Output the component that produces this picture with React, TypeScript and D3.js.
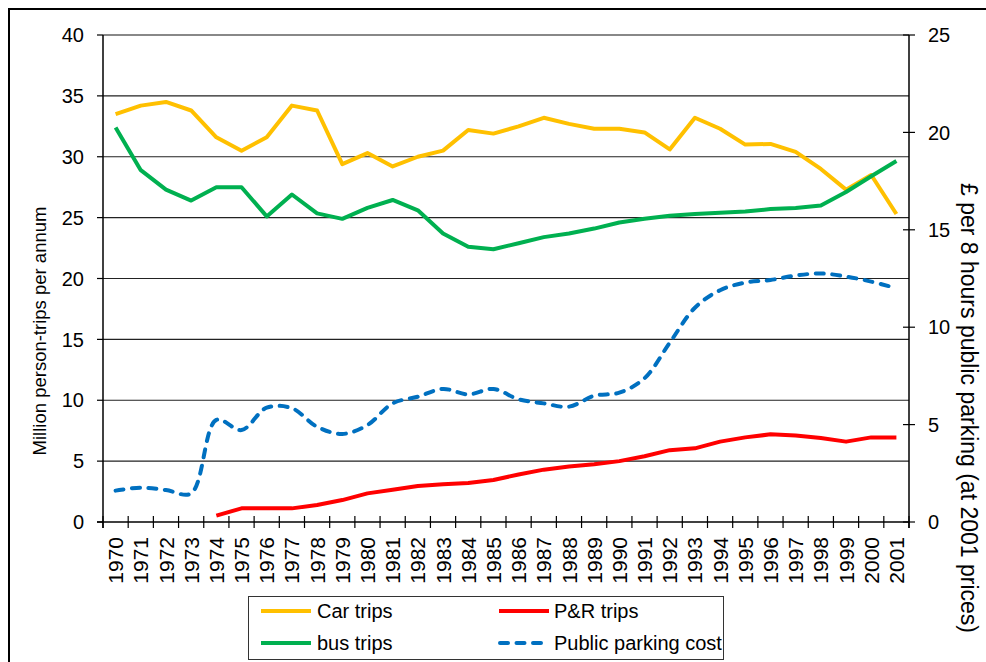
import * as d3 from "d3";

// categories and series
const years = [
  "1970", "1971", "1972", "1973", "1974", "1975", "1976", "1977",
  "1978", "1979", "1980", "1981", "1982", "1983", "1984", "1985",
  "1986", "1987", "1988", "1989", "1990", "1991", "1992", "1993",
  "1994", "1995", "1996", "1997", "1998", "1999", "2000", "2001",
];

const carTrips = [
  33.5, 34.2, 34.5, 33.8, 31.6, 30.5, 31.6, 34.2, 33.8, 29.4, 30.3, 29.2,
  30.0, 30.5, 32.2, 31.9, 32.5, 33.2, 32.7, 32.3, 32.3, 32.0, 30.6, 33.2,
  32.3, 31.0, 31.05, 30.4, 29.0, 27.3, 28.5, 25.3,
];

const busTrips = [
  32.4, 28.9, 27.3, 26.4, 27.5, 27.5, 25.1, 26.9, 25.35, 24.9, 25.8, 26.45,
  25.6, 23.7, 22.6, 22.4, 22.9, 23.4, 23.7, 24.1, 24.6, 24.9, 25.15, 25.3,
  25.4, 25.5, 25.7, 25.8, 26.0, 27.1, 28.4, 29.65,
];

const prTrips: (number | null)[] = [
  null, null, null, null, 0.52, 1.12, 1.12, 1.12, 1.4, 1.8, 2.35, 2.65,
  2.95, 3.1, 3.2, 3.45, 3.9, 4.3, 4.55, 4.75, 5.0, 5.4, 5.9, 6.05,
  6.6, 6.95, 7.2, 7.1, 6.9, 6.6, 6.95, 6.95,
];

const parkingCost = [
  1.61, 1.76, 1.64, 1.47, 5.24, 4.72, 5.87, 5.84, 4.89, 4.52, 4.98, 6.09,
  6.43, 6.83, 6.55, 6.83, 6.3, 6.09, 5.92, 6.48, 6.64, 7.38, 9.2, 11.0,
  11.9, 12.29, 12.42, 12.65, 12.76, 12.6, 12.34, 12.0,
];

const leftTicks = [0, 5, 10, 15, 20, 25, 30, 35, 40];
const rightTicks = [0, 5, 10, 15, 20, 25];

const FONT = "'Liberation Sans', Arial, sans-serif";

const left = 103;
const right = 909;
const top = 35;
const bottom = 522;

const App = () => {
  const x = d3.scaleBand().domain(years).range([left, right]);
  const yL = d3.scaleLinear().domain([0, 40]).range([bottom, top]);
  const yR = d3.scaleLinear().domain([0, 25]).range([bottom, top]);
  const cx = (i: number) => (x(years[i]) as number) + x.bandwidth() / 2;

  const lineL = d3
    .line<number | null>()
    .defined((d) => d != null)
    .x((_, i) => cx(i))
    .y((d) => yL(d as number));

  const lineR = d3
    .line<number>()
    .x((_, i) => cx(i))
    .y((d) => yR(d))
    .curve(d3.curveCatmullRom.alpha(0.5));

  const bounds = [...years.map((y) => x(y) as number), right];

  return (
    <svg
      width={986}
      height={662}
      style={{ position: "absolute", left: 0, top: 0, background: "#fff" }}
      fontFamily={FONT}
    >
      {/* outer frame */}
      <rect x={9} y={9} width={990} height={670} fill="none" stroke="#000" strokeWidth={2} />

      {/* gridlines */}
      {leftTicks.slice(1, -1).map((t) => (
        <line key={t} x1={left} x2={right} y1={yL(t)} y2={yL(t)} stroke="#222" strokeWidth={1.2} />
      ))}
      <line x1={left} x2={right} y1={top} y2={top} stroke="#888" strokeWidth={2} />

      {/* left axis */}
      <line x1={left} x2={left} y1={top} y2={bottom + 6} stroke="#000" strokeWidth={1.5} />
      {leftTicks.map((t) => (
        <g key={t}>
          <line x1={left - 6} x2={left} y1={yL(t)} y2={yL(t)} stroke="#000" strokeWidth={1.2} />
          <text x={84} y={yL(t)} dy="0.36em" textAnchor="end" fontSize={20} fill="#000">
            {t}
          </text>
        </g>
      ))}

      {/* right axis */}
      <line x1={right} x2={right} y1={top} y2={bottom + 6} stroke="#000" strokeWidth={1.5} />
      {rightTicks.map((t) => (
        <g key={t}>
          <line x1={right - 6} x2={right + 6} y1={yR(t)} y2={yR(t)} stroke="#000" strokeWidth={1.2} />
          <text x={928} y={yR(t)} dy="0.36em" textAnchor="start" fontSize={20} fill="#000">
            {t}
          </text>
        </g>
      ))}

      {/* x axis */}
      <line x1={left - 6} x2={right} y1={bottom} y2={bottom} stroke="#000" strokeWidth={1.5} />
      {bounds.map((b, i) => (
        <line key={i} x1={b} x2={b} y1={bottom - 6} y2={bottom + 6} stroke="#000" strokeWidth={1.2} />
      ))}
      {years.map((yr, i) => (
        <text
          key={yr}
          transform={`translate(${cx(i)},537) rotate(-90)`}
          dy="0.36em"
          textAnchor="end"
          fontSize={21}
          fill="#000"
        >
          {yr}
        </text>
      ))}

      {/* axis titles */}
      <text
        transform="translate(46,331) rotate(-90)"
        textAnchor="middle"
        fontSize={18.5}
        fill="#000"
      >
        Million person-trips per annum
      </text>
      <text
        transform="translate(961,408) rotate(90)"
        textAnchor="middle"
        fontSize={23}
        fill="#000"
      >
        £ per 8 hours public parking (at 2001 prices)
      </text>

      {/* series */}
      <path d={lineL(carTrips) as string} fill="none" stroke="#FFC000" strokeWidth={4} strokeLinejoin="round" />
      <path d={lineL(busTrips) as string} fill="none" stroke="#00B050" strokeWidth={4} strokeLinejoin="round" />
      <path d={lineL(prTrips) as string} fill="none" stroke="#FF0000" strokeWidth={4} strokeLinejoin="round" />
      <path
        d={lineR(parkingCost) as string}
        fill="none"
        stroke="#0070C0"
        strokeWidth={4}
        strokeDasharray="8 8.5"
        strokeLinecap="round"
      />

      {/* legend */}
      <rect x={248.5} y={596.5} width={475} height={63} fill="#fff" stroke="#333" strokeWidth={1} />
      <line x1={261} x2={311} y1={611} y2={611} stroke="#FFC000" strokeWidth={4} />
      <text x={317} y={611} dy="0.36em" fontSize={20} fill="#000">Car trips</text>
      <line x1={261} x2={311} y1={643} y2={643} stroke="#00B050" strokeWidth={4} />
      <text x={317} y={643} dy="0.36em" fontSize={20} fill="#000">bus trips</text>
      <line x1={499} x2={549} y1={611} y2={611} stroke="#FF0000" strokeWidth={4} />
      <text x={554} y={611} dy="0.36em" fontSize={20} fill="#000">P&amp;R trips</text>
      <line
        x1={500}
        x2={548}
        y1={643}
        y2={643}
        stroke="#0070C0"
        strokeWidth={4}
        strokeDasharray="8 8.5"
        strokeLinecap="round"
      />
      <text x={554} y={643} dy="0.36em" fontSize={20} fill="#000">Public parking cost</text>
    </svg>
  );
};

export default App;
